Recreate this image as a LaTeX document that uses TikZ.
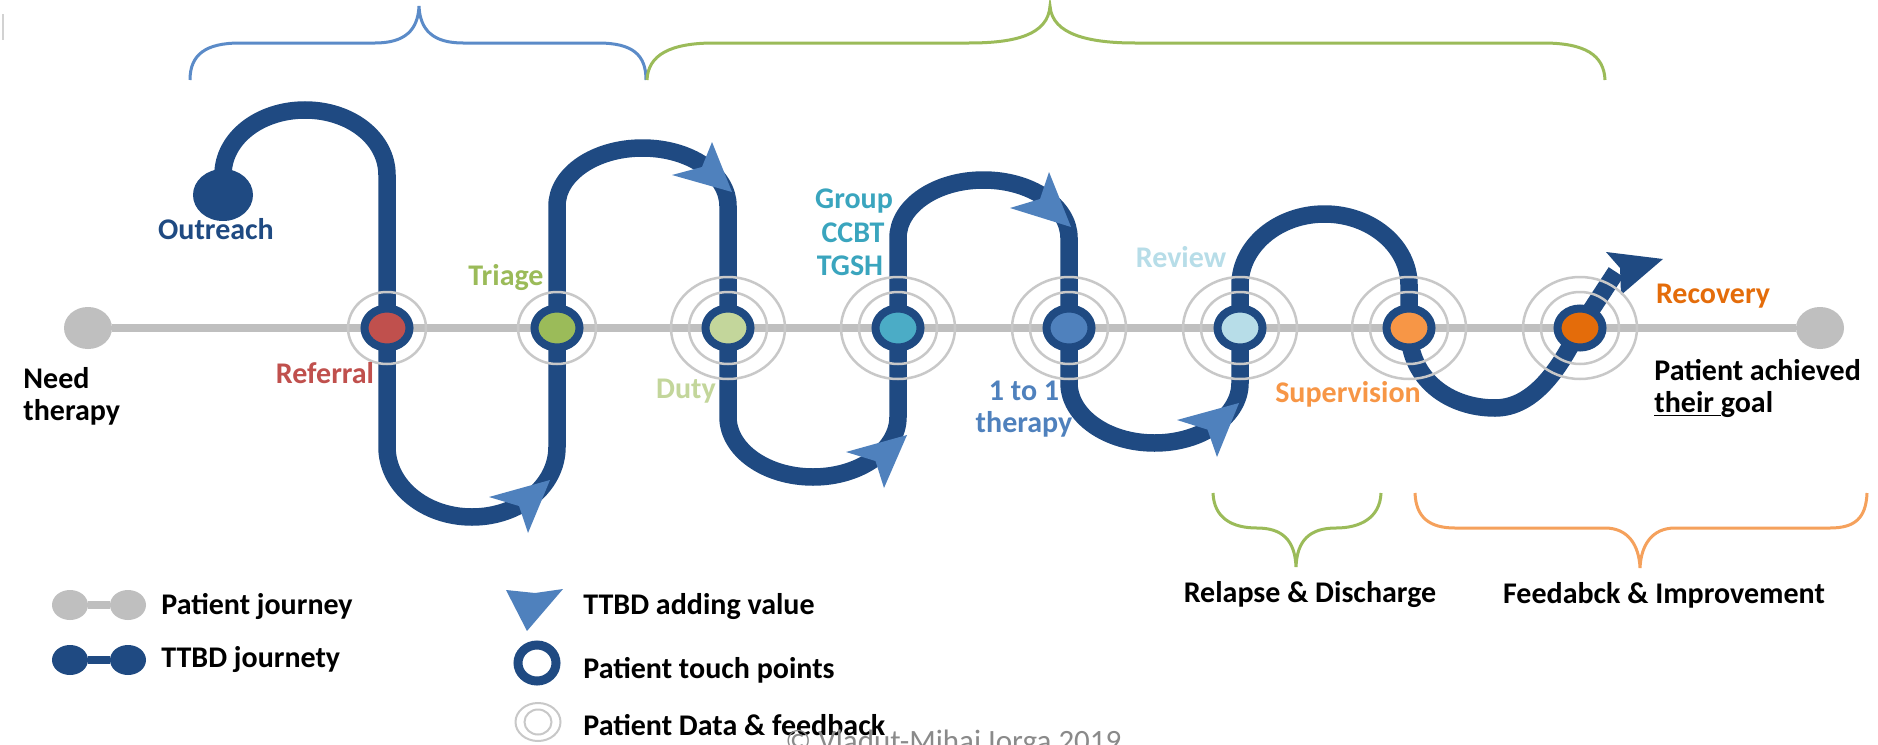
\documentclass[tikz,border=0pt]{standalone}
\usepackage{fontspec}
\setmainfont{Carlito}
\usetikzlibrary{shapes.geometric}
\definecolor{pblue}{HTML}{1F4A82}
\definecolor{lblue}{HTML}{4F81BD}
\definecolor{jgray}{HTML}{BFBFBF}
\definecolor{rgray}{HTML}{C8C8C8}
\definecolor{cref}{HTML}{C0504D}
\definecolor{ctri}{HTML}{9BBB59}
\definecolor{cduty}{HTML}{C3D69B}
\definecolor{cgrp}{HTML}{4BACC6}
\definecolor{cgrptxt}{HTML}{3AA5BE}
\definecolor{cone}{HTML}{4F81BD}
\definecolor{crev}{HTML}{B7DDE8}
\definecolor{csup}{HTML}{F79646}
\definecolor{crec}{HTML}{E46C0A}
\definecolor{bbrace}{HTML}{5B8BC8}
\definecolor{gbrace}{HTML}{9BBB59}
\definecolor{obrace}{HTML}{F5A15C}
\definecolor{cpy}{HTML}{8A8A8A}
\begin{document}
\begin{tikzpicture}[x=0.5pt,y=-0.5pt,
  lab/.style={font=\fontsize{15}{18}\selectfont\bfseries, inner sep=0pt, anchor=base},
  labw/.style={lab, anchor=base west},
  tp/.style={ellipse, draw=pblue, line width=4pt, minimum width=22.5pt, minimum height=19.5pt, inner sep=0pt},
  myring/.style={draw=rgray, line width=1.25pt},
  gdot/.style={ellipse, fill=jgray, minimum width=24pt, minimum height=21pt, inner sep=0pt},
  ldot/.style={ellipse, minimum width=18pt, minimum height=15pt, inner sep=0pt},
  bpath/.style={draw=pblue, line width=8.75pt},
  tri/.style={fill=lblue},
  mybrace/.style={line width=1.5pt}]
\useasboundingbox (0,0) rectangle (1878,744);
\fill[white] (0,0) rectangle (1878,744);
\draw[gray!35, line width=1pt] (3,14) -- (3,40);
% braces
\draw[mybrace, draw=bbrace] (190,80) .. controls (190,55) and (205,43) .. (240,43) -- (375,43) .. controls (405,43) and (418,30) .. (419,6) .. controls (420,30) and (433,43) .. (463,43) -- (598,43) .. controls (633,43) and (646,55) .. (646,80);
\draw[mybrace, draw=gbrace] (647,80) .. controls (648,55) and (670,43) .. (714,43) -- (969,43) .. controls (1015,43) and (1048,35) .. (1050,6) .. controls (1052,35) and (1090,43) .. (1135,43) -- (1543,43) .. controls (1585,43) and (1604,55) .. (1605,80);
\draw[mybrace, draw=gbrace] (1213,493) .. controls (1214,518) and (1232,528) .. (1257,528) .. controls (1282,528) and (1295,540) .. (1296,567) .. controls (1297,540) and (1310,528) .. (1336,528) .. controls (1360,528) and (1380,518) .. (1381,493);
\draw[mybrace, draw=obrace] (1415,493) .. controls (1416,518) and (1430,528) .. (1455,528) -- (1605,528) .. controls (1628,528) and (1639,545) .. (1640,568) .. controls (1641,545) and (1652,528) .. (1675,528) -- (1830,528) .. controls (1855,528) and (1866,518) .. (1867,493);
% patient journey
\node[gdot] (start) at (88,328) {};
\node[gdot] (goal) at (1820,328) {};
\draw[jgray, line width=4pt] (start) -- (goal);
% TTBD journey
\node[ellipse, fill=pblue, minimum width=30pt, minimum height=26pt, inner sep=0pt] (outreach) at (223,195) {};
\draw[bpath] (outreach.center) -- (223,175) .. controls (223,138) and (260,110) .. (305,110) .. controls (350,110) and (387,138) .. (387,175) -- (387,447) .. controls (387,486) and (425,517) .. (472,517) .. controls (519,517) and (557,486) .. (557,447) -- (557,206) .. controls (557,174) and (595,148) .. (642.5,148) .. controls (690,148) and (728,174) .. (728,206) -- (728,417) .. controls (728,450) and (766,477) .. (813,477) .. controls (860,477) and (898,450) .. (898,417) -- (898,238) .. controls (898,206) and (936,180) .. (983.5,180) .. controls (1031,180) and (1069,206) .. (1069,238) -- (1069,383) .. controls (1069,416) and (1107,443) .. (1154.5,443) .. controls (1202,443) and (1240,416) .. (1240,383) -- (1240,285) .. controls (1240,246) and (1278,214) .. (1324.5,214) .. controls (1371,214) and (1409,246) .. (1409,285) -- (1409,330) .. controls (1409,380) and (1450,408) .. (1495,408) .. controls (1535,408) and (1562,365) .. (1580,327) -- (1616,272);
% adding value arrows
\fill[tri] (550,480) -- (489,497) -- (519,506) -- (528,533) -- cycle;
\fill[tri] (732,192) -- (712,142) -- (702,167) -- (672,175) -- cycle;
\fill[tri] (907,435) -- (846,452) -- (875.5,461) -- (884,488) -- cycle;
\fill[tri] (1071,227) -- (1049,172) -- (1040,199) -- (1010,208) -- cycle;
\fill[tri] (1239,403) -- (1177,420) -- (1207.5,429.6) -- (1217,457) -- cycle;
\fill[pblue] (1663,259) -- (1606,252) -- (1620,268) -- (1621,295) -- cycle;
% touch points
\node[tp, fill=cref] (referral) at (387,328) {};
\node[tp, fill=ctri] (triage) at (557,328) {};
\node[tp, fill=cduty] (duty) at (728,328) {};
\node[tp, fill=cgrp] (group) at (898,328) {};
\node[tp, fill=cone] (one) at (1069,328) {};
\node[tp, fill=crev] (review) at (1240,328) {};
\node[tp, fill=csup] (superv) at (1409,328) {};
\node[tp, fill=crec] (recov) at (1580,328) {};
\foreach \n in {referral,triage,duty,group,one,review,superv,recov}
  \draw[myring] (\n) ellipse [x radius=19.5pt, y radius=18pt];
\foreach \n in {duty,group,one,review,superv,recov}
  \draw[myring] (\n) ellipse [x radius=28.5pt, y radius=25.5pt];
% labels
\node[lab, text=pblue] (tOutreach) at (216,239) {Outreach};
\node[lab, text=cref] (tReferral) at (325,383) {Referral};
\node[lab, text=ctri] (tTriage) at (506,285) {Triage};
\node[lab, text=cduty] (tDuty) at (686,398) {Duty};
\node[lab, text=cgrptxt] (tGroup) at (854,208) {Group};
\node[lab, text=cgrptxt] (tCCBT) at (853,242) {CCBT};
\node[lab, text=cgrptxt] (tTGSH) at (850,275) {TGSH};
\node[lab, text=cone] (tOne) at (1024,400) {1 to 1};
\node[lab, text=cone] (tOneB) at (1024,432) {therapy};
\node[lab, text=crev] (tReview) at (1181,267) {Review};
\node[lab, text=csup] (tSup) at (1348,402) {Supervision};
\node[lab, text=crec] (tRec) at (1713,303) {Recovery};
\node[labw] (tNeed) at (23,388) {Need};
\node[labw] (tNeedB) at (23,420) {therapy};
\node[labw] (tGoal) at (1654,380) {Patient achieved};
\node[labw] (tGoalB) at (1654,412) {\underline{their\ }goal};
\node[lab] (tRelapse) at (1310,602) {Relapse \& Discharge};
\node[lab] (tFeed) at (1664,603) {Feedabck \& Improvement};
% legend
\node[ldot, fill=jgray] (lg1) at (70,605) {};
\node[ldot, fill=jgray] (lg2) at (128,605) {};
\draw[jgray, line width=4pt] (lg1) -- (lg2);
\node[ldot, fill=pblue] (lb1) at (70,660) {};
\node[ldot, fill=pblue] (lb2) at (128,660) {};
\draw[pblue, line width=4pt] (lb1) -- (lb2);
\fill[tri] (527,631) -- (506,590) -- (535,593) -- (563,589) -- cycle;
\node[ellipse, draw=pblue, line width=4.5pt, minimum width=19pt, minimum height=18pt, inner sep=0pt] (ltouch) at (537,663) {};
\coordinate (ldata) at (538,722);
\draw[rgray, line width=1pt] (ldata) ellipse [x radius=11.25pt, y radius=9.5pt];
\draw[rgray, line width=1pt] (ldata) ellipse [x radius=6.75pt, y radius=6.25pt];
\node[labw] (lt1) at (161,614) {Patient journey};
\node[labw] (lt2) at (161,667) {TTBD journety};
\node[labw] (lt3) at (583,614) {TTBD adding value};
\node[labw] (lt4) at (583,678) {Patient touch points};
\node[labw] (lt5) at (583,735) {Patient Data \& feedback};
\node[anchor=base west, inner sep=0pt, font=\fontsize{15.5}{18}\selectfont, text=cpy] (copy) at (785,751) {© Vladut-Mihai Iorga 2019};
\end{tikzpicture}
\end{document}
